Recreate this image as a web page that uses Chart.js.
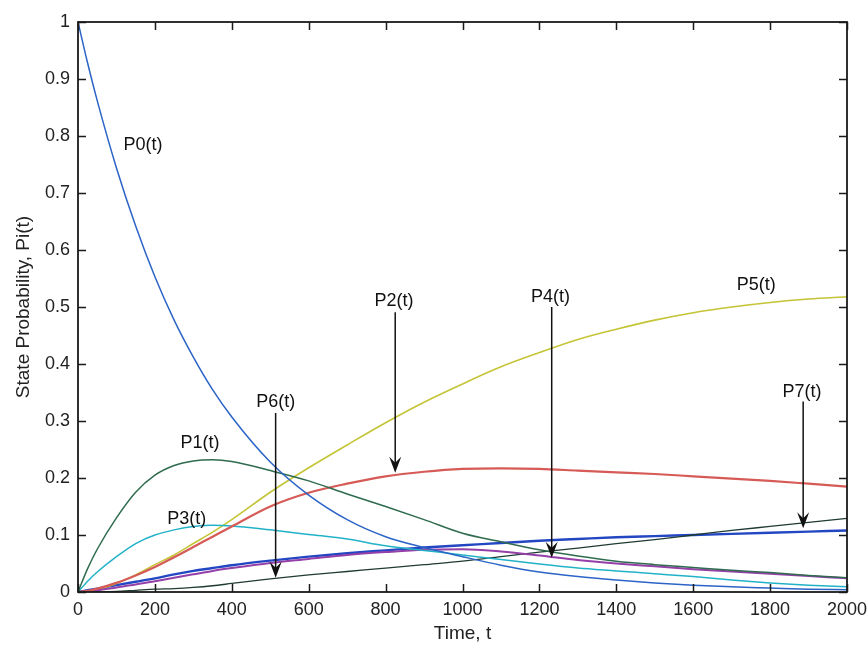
<!DOCTYPE html>
<html>
<head>
<meta charset="utf-8">
<title>State Probability</title>
<script src="https://cdn.jsdelivr.net/npm/chart.js@4.4.1/dist/chart.umd.min.js"></script>
<style>
    html, body { margin: 0; padding: 0; background: #fff; }
    #wrap { width: 868px; height: 645px; position: relative; }
</style>
</head>
<body>
<div id="wrap"><canvas id="chartPi"></canvas></div>
<script>
// Tiempo (eje x) y probabilidades de estado
const timeValues = [0, 25, 50, 100, 150, 200, 250, 300, 350, 400, 500, 600, 700, 800, 900, 1000,
    1100, 1200, 1300, 1400, 1500, 1600, 1700, 1800, 1900, 2000];

const p0Values = [1, 0.928, 0.862, 0.744, 0.642, 0.553, 0.477, 0.412, 0.355, 0.307, 0.228, 0.170, 0.127, 0.097, 0.078, 0.062,
    0.047, 0.035, 0.027, 0.021, 0.016, 0.012, 0.009, 0.007, 0.005, 0.004];
const p1Values = [0, 0.041, 0.075, 0.130, 0.175, 0.205, 0.222, 0.230, 0.232, 0.229, 0.213, 0.195, 0.172, 0.150, 0.127, 0.103,
    0.088, 0.074, 0.063, 0.054, 0.048, 0.043, 0.038, 0.034, 0.029, 0.025];
const p2Values = [0, 0.002, 0.006, 0.016, 0.029, 0.044, 0.061, 0.079, 0.097, 0.115, 0.150, 0.174, 0.190, 0.203, 0.211, 0.216,
    0.217, 0.216, 0.213, 0.210, 0.207, 0.203, 0.199, 0.195, 0.190, 0.185];
const p3Values = [0, 0.019, 0.035, 0.062, 0.085, 0.100, 0.109, 0.115, 0.117, 0.116, 0.109, 0.101, 0.093, 0.081, 0.073, 0.065,
    0.057, 0.049, 0.042, 0.037, 0.032, 0.027, 0.021, 0.016, 0.012, 0.009];
const p4Values = [0, 0.001, 0.003, 0.008, 0.013, 0.019, 0.025, 0.031, 0.037, 0.042, 0.051, 0.058, 0.065, 0.070, 0.074, 0.075,
    0.071, 0.064, 0.056, 0.050, 0.045, 0.040, 0.036, 0.032, 0.028, 0.024];
const p5Values = [0, 0.001, 0.004, 0.015, 0.030, 0.048, 0.065, 0.085, 0.105, 0.127, 0.175, 0.218, 0.258, 0.297, 0.333, 0.365,
    0.395, 0.420, 0.443, 0.461, 0.477, 0.490, 0.500, 0.508, 0.514, 0.518];
const p6Values = [0, 0, 0, 0.001, 0.003, 0.005, 0.006, 0.008, 0.011, 0.015, 0.023, 0.030, 0.036, 0.042, 0.048, 0.054,
    0.062, 0.070, 0.077, 0.085, 0.092, 0.100, 0.108, 0.115, 0.122, 0.129];
const p7Values = [0, 0.003, 0.006, 0.012, 0.018, 0.024, 0.031, 0.037, 0.042, 0.047, 0.055, 0.062, 0.068, 0.073, 0.078, 0.082,
    0.086, 0.090, 0.093, 0.096, 0.098, 0.100, 0.102, 0.104, 0.106, 0.108];

// Etiquetas de los ejes
const xTickLabels = ['0', '200', '400', '600', '800', '1000', '1200', '1400', '1600', '1800', '2000'];
const yTickLabels = ['0', '0.1', '0.2', '0.3', '0.4', '0.5', '0.6', '0.7', '0.8', '0.9', '1'];

// Textos sobre las curvas (coordenadas en unidades de datos)
const curveLabels = [
    { text: 'P0(t)', t: 169, v: 0.784 },
    { text: 'P1(t)', t: 317, v: 0.261 },
    { text: 'P3(t)', t: 283, v: 0.128 },
    { text: 'P6(t)', t: 514, v: 0.334 },
    { text: 'P2(t)', t: 822, v: 0.510 },
    { text: 'P4(t)', t: 1229, v: 0.518 },
    { text: 'P5(t)', t: 1764, v: 0.539 },
    { text: 'P7(t)', t: 1883, v: 0.351 }
];
// Flechas verticales: tiempo, valor inicial, valor de la punta
const arrowTimes = [514, 825, 1232, 1886];
const arrowFrom = [0.314, 0.491, 0.500, 0.334];
const arrowTo = [0.025, 0.209, 0.060, 0.112];

const FONT = 'Liberation Sans, Arial, sans-serif';

function series(values) {
    return timeValues.map((t, i) => ({ x: t, y: values[i] }));
}

function makeDataset(label, values, color, width) {
    return {
        label: label,
        data: series(values),
        borderColor: color,
        borderWidth: width,
        pointRadius: 0,
        fill: false,
        cubicInterpolationMode: 'monotone'
    };
}

// Caja estilo MATLAB con marcas hacia adentro, etiquetas y flechas
const boxPlugin = {
    id: 'matlabBox',
    afterDatasetsDraw(chart) {
        const { ctx, chartArea: a, scales: { x, y } } = chart;
        ctx.save();
        ctx.strokeStyle = '#1a1a1a';
        ctx.lineWidth = 1.8;
        ctx.strokeRect(a.left, a.top, a.right - a.left, a.bottom - a.top);
        ctx.lineWidth = 1.5;
        ctx.beginPath();
        x.ticks.forEach(tk => {
            const px = Math.round(x.getPixelForValue(tk.value)) + 0.5;
            ctx.moveTo(px, a.bottom); ctx.lineTo(px, a.bottom - 8);
            ctx.moveTo(px, a.top); ctx.lineTo(px, a.top + 8);
        });
        y.ticks.forEach(tk => {
            const py = Math.round(y.getPixelForValue(tk.value)) + 0.5;
            ctx.moveTo(a.left, py); ctx.lineTo(a.left + 8, py);
            ctx.moveTo(a.right, py); ctx.lineTo(a.right - 8, py);
        });
        ctx.stroke();

        // Flechas
        ctx.fillStyle = '#111';
        ctx.strokeStyle = '#111';
        ctx.lineWidth = 1.5;
        arrowTimes.forEach((t, i) => {
            const px = x.getPixelForValue(t);
            const y0 = y.getPixelForValue(arrowFrom[i]);
            const y1 = y.getPixelForValue(arrowTo[i]);
            ctx.beginPath();
            ctx.moveTo(px, y0);
            ctx.lineTo(px, y1 - 8);
            ctx.stroke();
            ctx.beginPath();
            ctx.moveTo(px, y1);
            ctx.lineTo(px - 6, y1 - 16);
            ctx.lineTo(px, y1 - 10);
            ctx.lineTo(px + 6, y1 - 16);
            ctx.closePath();
            ctx.fill();
        });

        // Textos
        ctx.font = '18px ' + FONT;
        ctx.textAlign = 'center';
        ctx.textBaseline = 'middle';
        curveLabels.forEach(l => {
            ctx.fillText(l.text, x.getPixelForValue(l.t), y.getPixelForValue(l.v));
        });
        ctx.restore();
    }
};

document.addEventListener('DOMContentLoaded', function() {
    const ctx = document.getElementById('chartPi');
    new Chart(ctx, {
        type: 'line',
        data: {
            datasets: [
                makeDataset('P0(t)', p0Values, '#2b64c6', 1.5),
                makeDataset('P1(t)', p1Values, '#2f6b4f', 1.5),
                makeDataset('P2(t)', p2Values, '#d65a55', 2.2),
                makeDataset('P3(t)', p3Values, '#22b2c8', 1.5),
                makeDataset('P4(t)', p4Values, '#9440a8', 2),
                makeDataset('P5(t)', p5Values, '#c4c436', 1.6),
                makeDataset('P6(t)', p6Values, '#1f3b33', 1.3),
                makeDataset('P7(t)', p7Values, '#2347c2', 2.4)
            ]
        },
        options: {
            responsive: true,
            maintainAspectRatio: false,
            animation: false,
            events: [],
            layout: { padding: { top: 22, right: 21, left: 0, bottom: 0 } },
            plugins: {
                legend: { display: false },
                tooltip: { enabled: false }
            },
            scales: {
                x: {
                    type: 'linear',
                    min: 0,
                    max: 2000,
                    grid: { display: false, drawTicks: false },
                    border: { display: false },
                    ticks: {
                        stepSize: 200,
                        padding: 7,
                        color: '#222',
                        font: { family: FONT, size: 18 },
                        maxRotation: 0,
                        callback: (v, i) => xTickLabels[i]
                    },
                    title: {
                        display: true,
                        text: 'Time, t',
                        color: '#222',
                        font: { family: FONT, size: 19 },
                        padding: { top: 0, bottom: 0 }
                    },
                    afterFit: s => { s.height = 53; s.paddingLeft = 0; s.paddingRight = 0; }
                },
                y: {
                    min: 0,
                    max: 1,
                    grid: { display: false, drawTicks: false },
                    border: { display: false },
                    ticks: {
                        stepSize: 0.1,
                        padding: 8,
                        color: '#222',
                        font: { family: FONT, size: 18 },
                        callback: (v, i) => yTickLabels[i]
                    },
                    title: {
                        display: true,
                        text: 'State Probability, Pi(t)',
                        color: '#222',
                        font: { family: FONT, size: 19 },
                        padding: { top: 12, bottom: 0 }
                    },
                    afterFit: s => { s.width = 78; s.paddingTop = 0; s.paddingBottom = 0; }
                }
            }
        },
        plugins: [boxPlugin]
    });
});
</script>
</body>
</html>
